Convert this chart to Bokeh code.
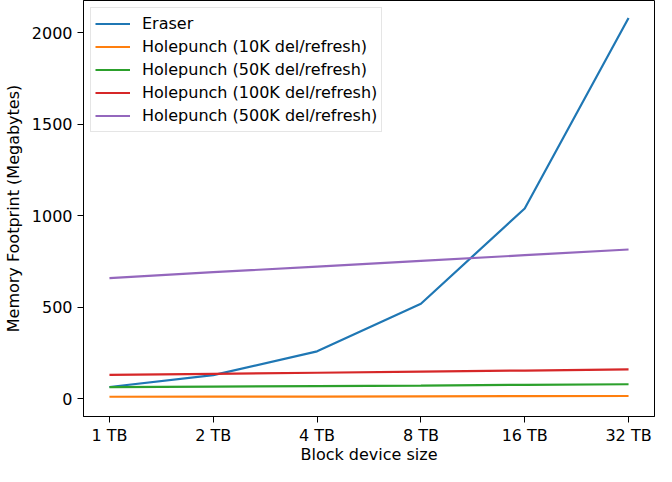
from bokeh.plotting import figure
from bokeh.models import Range1d, FixedTicker, Legend, LegendItem
from bokeh.embed import file_html
from bokeh.resources import INLINE

sizes = ["1 TB", "2 TB", "4 TB", "8 TB", "16 TB", "32 TB"]
eraser = [65, 130, 260, 520, 1040, 2080]
hp_10k = [12, 13, 13, 14, 15, 16]
hp_50k = [64, 67, 70, 73, 77, 80]
hp_100k = [131, 137, 143, 149, 155, 161]
hp_500k = [660, 692, 723, 754, 785, 816]

series = [
    ("Eraser", eraser, "#1f77b4"),
    ("Holepunch (10K del/refresh)", hp_10k, "#ff7f0e"),
    ("Holepunch (50K del/refresh)", hp_50k, "#2ca02c"),
    ("Holepunch (100K del/refresh)", hp_100k, "#d62728"),
    ("Holepunch (500K del/refresh)", hp_500k, "#9467bd"),
]

FONT = "DejaVu Sans"
FS = "16px"
x = list(range(len(sizes)))

p = figure(width=656, height=466, output_backend="svg", toolbar_location=None,
           x_range=Range1d(-0.25, len(sizes) - 0.75), y_range=Range1d(-96, 2176),
           min_border_left=80, min_border_right=2, min_border_top=0, min_border_bottom=0)

items = []
for name, vals, col in series:
    r = p.line(x, vals, line_color=col, line_width=2.2)
    items.append(LegendItem(label=name, renderers=[r]))

p.xgrid.visible = False
p.ygrid.visible = False
p.outline_line_color = "black"
p.outline_line_width = 1

p.xaxis.ticker = FixedTicker(ticks=x)
p.xaxis.major_label_overrides = {i: s for i, s in enumerate(sizes)}
p.yaxis.ticker = FixedTicker(ticks=[0, 500, 1000, 1500, 2000])

for ax in (p.xaxis[0], p.yaxis[0]):
    ax.minor_tick_line_color = None
    ax.major_tick_in = 0
    ax.major_tick_out = 6
    ax.major_tick_line_color = "black"
    ax.axis_line_color = "black"
    ax.major_label_text_font = FONT
    ax.major_label_text_font_size = FS
    ax.major_label_text_color = "black"
    ax.axis_label_text_font = FONT
    ax.axis_label_text_font_size = FS
    ax.axis_label_text_font_style = "normal"
    ax.axis_label_text_color = "black"
    ax.axis_label_text_line_height = 1.0
    ax.major_label_text_line_height = 1.0

p.xaxis.axis_label = "Block device size"
p.yaxis.axis_label = "Memory Footprint (Megabytes)"
p.xaxis.major_label_standoff = 3
p.xaxis.axis_label_standoff = -3
p.yaxis.major_label_standoff = 5
p.yaxis.axis_label_standoff = 6

legend = Legend(items=items, location="top_left")
legend.label_text_font = FONT
legend.label_text_font_size = FS
legend.label_text_color = "black"
legend.border_line_color = "#cccccc"
legend.border_line_width = 1
legend.background_fill_alpha = 0.8
legend.margin = 7
legend.padding = 4
legend.spacing = 0
legend.glyph_width = 35
legend.label_standoff = 12
legend.label_height = 23
legend.glyph_height = 23
p.add_layout(legend)

open("out.html", "w").write(file_html(p, INLINE))
